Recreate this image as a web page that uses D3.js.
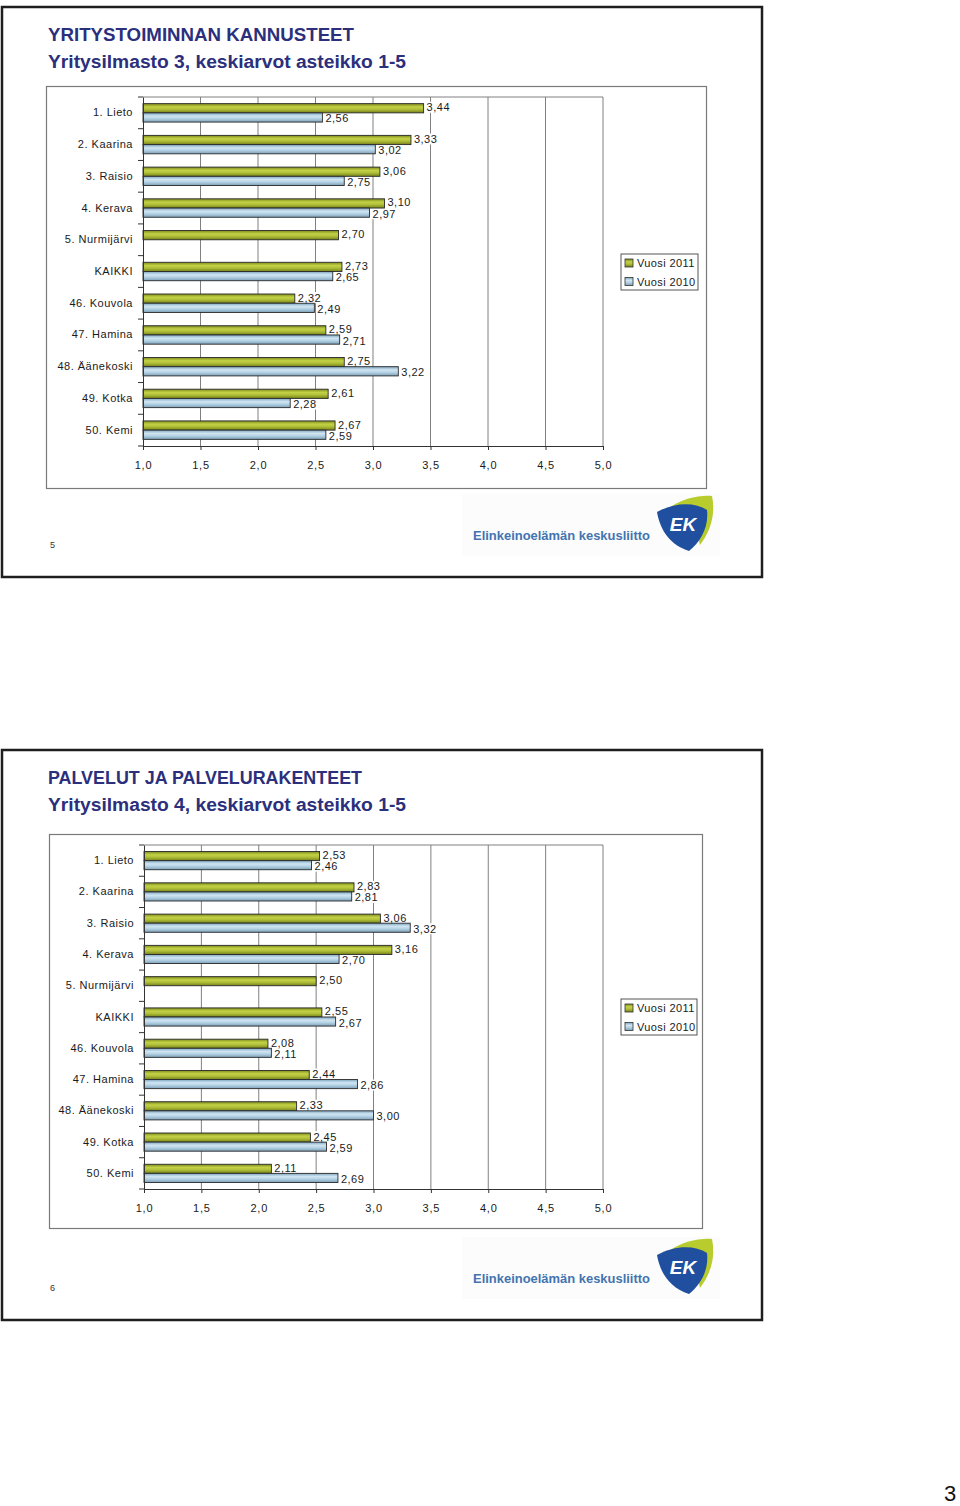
<!DOCTYPE html>
<html><head><meta charset="utf-8">
<script src="https://cdn.jsdelivr.net/npm/d3@7"></script>
<style>
body{margin:0;background:#fff;}
svg{display:block;font-family:"Liberation Sans",Arial,sans-serif;}
</style></head>
<body>
<svg id="c" width="960" height="1506"></svg>
<script>
// ---------- DATA ----------
const categories = ["1. Lieto","2. Kaarina","3. Raisio","4. Kerava","5. Nurmijärvi","KAIKKI","46. Kouvola","47. Hamina","48. Äänekoski","49. Kotka","50. Kemi"];
const series = ["Vuosi 2011","Vuosi 2010"];
const kannusteet2011 = [3.44,3.33,3.06,3.10,2.70,2.73,2.32,2.59,2.75,2.61,2.67];
const kannusteet2010 = [2.56,3.02,2.75,2.97,null,2.65,2.49,2.71,3.22,2.28,2.59];
const palvelut2011 = [2.53,2.83,3.06,3.16,2.50,2.55,2.08,2.44,2.33,2.45,2.11];
const palvelut2010 = [2.46,2.81,3.32,2.70,null,2.67,2.11,2.86,3.00,2.59,2.69];
const xTicks = [1.0,1.5,2.0,2.5,3.0,3.5,4.0,4.5,5.0];
const titlesA = ["YRITYSTOIMINNAN KANNUSTEET","Yritysilmasto 3, keskiarvot asteikko 1-5"];
const titlesB = ["PALVELUT JA PALVELURAKENTEET","Yritysilmasto 4, keskiarvot asteikko 1-5"];
const pageNumbers = ["5","6","3"];
const logoText = "Elinkeinoelämän keskusliitto";

// ---------- DRAW ----------
const svg = d3.select("#c");
const defs = svg.append("defs");
function grad(id, stops){
  const g = defs.append("linearGradient").attr("id",id).attr("x1",0).attr("y1",0).attr("x2",0).attr("y2",1);
  stops.forEach(s=>g.append("stop").attr("offset",s[0]).attr("stop-color",s[1]));
}
grad("gGreen",[[0,"#7d8a1c"],[0.35,"#c2d145"],[0.6,"#b2c13a"],[1,"#76821a"]]);
grad("gBlue",[[0,"#7fa5bf"],[0.35,"#cfe5f2"],[0.6,"#b7d4e6"],[1,"#7c9fb8"]]);
const fills = {"Vuosi 2011":"url(#gGreen)","Vuosi 2010":"url(#gBlue)"};
const labelShift = {"Vuosi 2011":-1,"Vuosi 2010":1};
const fmt = v => d3.format(".2f")(v).replace(".",",");
const fmtX = v => d3.format(".1f")(v).replace(".",",");
const titleColor = "#2b2f7c";

function drawSlide(cfg){
  const g = svg.append("g");
  g.append("rect").attr("x",cfg.slide.x).attr("y",cfg.slide.y).attr("width",cfg.slide.w).attr("height",cfg.slide.h)
    .attr("fill","none").attr("stroke","#1e1e1e").attr("stroke-width",2.5);
  g.append("text").attr("x",48).attr("y",cfg.titleY).text(cfg.titles[0])
    .attr("font-size",18).attr("font-weight","bold").attr("fill",titleColor)
    .attr("textLength",cfg.titleLen).attr("lengthAdjust","spacingAndGlyphs");
  g.append("text").attr("x",48).attr("y",cfg.titleY+27).text(cfg.titles[1])
    .attr("font-size",18).attr("font-weight","bold").attr("fill",titleColor)
    .attr("textLength",358).attr("lengthAdjust","spacingAndGlyphs");
  g.append("rect").attr("x",cfg.box.x).attr("y",cfg.box.y).attr("width",cfg.box.w).attr("height",cfg.box.h)
    .attr("fill","#fff").attr("stroke","#7a7a7a").attr("stroke-width",1.2);

  const p = cfg.plot;
  const x = d3.scaleLinear().domain([1,5]).range([p.x0,p.x1]);
  const y = d3.scaleBand().domain(categories).range([p.y0,p.y1]).padding(0);
  const inner = d3.scaleBand().domain(series).range([0,y.bandwidth()]).paddingInner(0).paddingOuter(0.72);

  g.append("g").selectAll("line").data(xTicks.slice(1)).join("line")
    .attr("x1",d=>x(d)).attr("x2",d=>x(d)).attr("y1",p.y0).attr("y2",p.y1)
    .attr("stroke","#808080").attr("stroke-width",1);
  g.append("line").attr("x1",p.x0).attr("x2",p.x1).attr("y1",p.y0).attr("y2",p.y0)
    .attr("stroke","#808080").attr("stroke-width",1);

  const rows = [];
  categories.forEach((c,i)=>{
    if(cfg.v2011[i]!=null) rows.push({cat:c, s:"Vuosi 2011", v:cfg.v2011[i]});
    if(cfg.v2010[i]!=null) rows.push({cat:c, s:"Vuosi 2010", v:cfg.v2010[i]});
  });

  g.append("g").selectAll("rect").data(rows).join("rect")
    .attr("x",d=>x(d.v)+2).attr("y",d=>y(d.cat)+inner(d.s)+inner.bandwidth()/2-5.5+labelShift[d.s])
    .attr("width",24).attr("height",11).attr("fill","#fff");

  g.append("g").selectAll("rect").data(rows).join("rect")
    .attr("x",x(1)).attr("y",d=>y(d.cat)+inner(d.s))
    .attr("width",d=>x(d.v)-x(1)).attr("height",inner.bandwidth())
    .attr("fill",d=>fills[d.s]).attr("stroke","#2a2a2a").attr("stroke-width",0.9);

  g.append("g").selectAll("text").data(rows).join("text")
    .attr("x",d=>x(d.v)+3).attr("y",d=>y(d.cat)+inner(d.s)+inner.bandwidth()/2+4+labelShift[d.s])
    .text(d=>fmt(d.v)).attr("font-size",11).attr("fill","#1a1a1a").attr("letter-spacing",0.5);

  const xa = g.append("g").attr("transform",`translate(0,${p.y1})`)
    .call(d3.axisBottom(x).tickValues(xTicks).tickFormat(fmtX).tickSize(4).tickPadding(11).tickSizeOuter(0));
  xa.select(".domain").attr("stroke","#333");
  xa.selectAll(".tick line").attr("stroke","#333");
  xa.selectAll("text").attr("font-size",11).attr("fill","#1a1a1a").attr("letter-spacing",0.8)
    .attr("font-family","Liberation Sans, Arial, sans-serif");

  const ya = g.append("g").attr("transform",`translate(${p.x0},0)`)
    .call(d3.axisLeft(y).tickSize(0).tickPadding(10));
  ya.select(".domain").attr("stroke","#333");
  ya.selectAll("text").attr("font-size",11).attr("fill","#1a1a1a").attr("letter-spacing",0.5)
    .attr("font-family","Liberation Sans, Arial, sans-serif");
  const bounds = d3.range(categories.length+1).map(i=>p.y0+i*y.step());
  g.append("g").selectAll("line").data(bounds).join("line")
    .attr("x1",p.x0-5).attr("x2",p.x0).attr("y1",d=>d).attr("y2",d=>d).attr("stroke","#333");

  const L = cfg.legend;
  const lg = g.append("g");
  lg.append("rect").attr("x",L.x).attr("y",L.y).attr("width",L.w).attr("height",L.h)
    .attr("fill","#fff").attr("stroke","#555").attr("stroke-width",1);
  series.forEach((s,i)=>{
    lg.append("rect").attr("x",L.x+4).attr("y",L.y+5+i*18.5).attr("width",8).attr("height",8)
      .attr("fill",fills[s]).attr("stroke","#333").attr("stroke-width",0.8);
    lg.append("text").attr("x",L.x+16).attr("y",L.y+13+i*18.5).text(s)
      .attr("font-size",11).attr("fill","#1a1a1a").attr("letter-spacing",0.4);
  });

  g.append("text").attr("x",50).attr("y",cfg.pageY).text(cfg.page).attr("font-size",9).attr("fill","#333");

  const lo = g.append("g").attr("transform",`translate(0,${cfg.logoDY})`);
  lo.append("rect").attr("x",462).attr("y",494).attr("width",258).attr("height",62).attr("fill","#fcfcfc");
  lo.append("text").attr("x",473).attr("y",540).text(logoText)
    .attr("font-size",13).attr("font-weight","bold").attr("fill","#4374b0").attr("textLength",177).attr("lengthAdjust","spacingAndGlyphs");
  lo.append("path").attr("d","M666,510 C682,498 700,495 712,496 C716,515 710,532 700,545 C697,530 690,516 666,510 Z")
    .attr("fill","#b8cc2e");
  lo.append("path").attr("d","M657,512 C675,502 695,502 707,510 C709,528 700,542 689,551 C670,545 660,530 657,512 Z")
    .attr("fill","#1f4f9e");
  lo.append("text").attr("x",683).attr("y",531).text("EK").attr("text-anchor","middle")
    .attr("font-size",19).attr("font-weight","bold").attr("font-style","italic").attr("fill","#fff");
}

drawSlide({
  slide:{x:2,y:7,w:760,h:570}, titleY:41, titleLen:306, titles:titlesA,
  box:{x:46.5,y:86.5,w:660,h:402},
  plot:{x0:143,x1:603,y0:97,y1:446},
  v2011:kannusteet2011, v2010:kannusteet2010,
  legend:{x:621,y:254,w:77,h:36}, page:pageNumbers[0], pageY:548, logoDY:0
});
drawSlide({
  slide:{x:2,y:750,w:760,h:570}, titleY:784, titleLen:314, titles:titlesB,
  box:{x:49.5,y:834.5,w:653,h:394},
  plot:{x0:144,x1:603,y0:845,y1:1189},
  v2011:palvelut2011, v2010:palvelut2010,
  legend:{x:621,y:999,w:76,h:36}, page:pageNumbers[1], pageY:1291, logoDY:743
});
svg.append("text").attr("x",950).attr("y",1501).attr("text-anchor","middle").text(pageNumbers[2])
  .attr("font-size",22).attr("fill","#111");
</script>
</body></html>
